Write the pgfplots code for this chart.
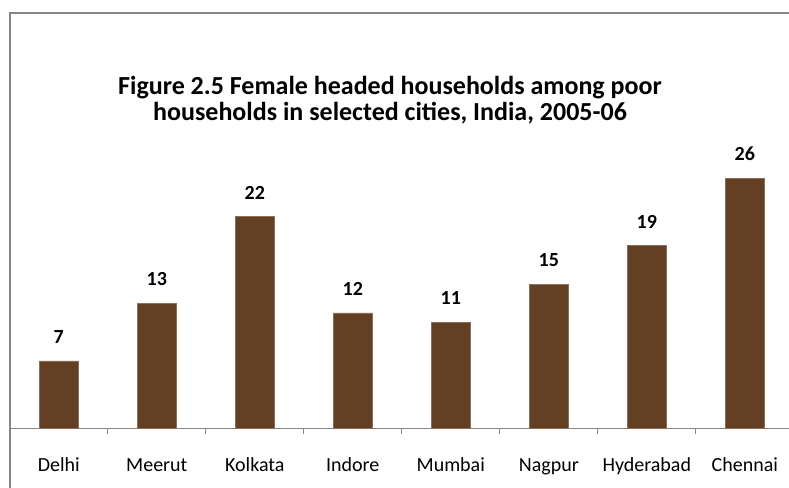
\documentclass[border=0pt]{standalone}
\usepackage{pgfplots}
\pgfplotsset{compat=1.18}
\usepackage{fontspec}
\setmainfont{Carlito}
\definecolor{barbrown}{RGB}{99,63,35}
\definecolor{framegray}{RGB}{134,134,134}
\begin{document}
\begin{tikzpicture}[x=0.75pt,y=0.75pt]
\useasboundingbox (0,0) rectangle (789,487);
\clip (0,0) rectangle (789,487);
\fill[white] (0,0) rectangle (789,487);
\draw[framegray, line width=1.5pt] (10,-20) -- (10,474) -- (810,474);
\node[font=\bfseries\fontsize{19.5}{19.5}\selectfont, align=center] at (390,387) {Figure 2.5 Female headed households among poor\\households in selected cities, India, 2005-06};
\begin{axis}[
  at={(10,61)}, anchor=south west,
  width=588pt, height=216.45pt, scale only axis,
  ymin=0, ymax=30, xmin=-0.5, xmax=7.5,
  axis x line*=bottom, axis y line=none,
  x axis line style={-, draw=framegray, line width=0.9pt},
  ybar, bar width=29.25pt,
  xtick={0,...,7},
  xticklabels={Delhi,Meerut,Kolkata,Indore,Mumbai,Nagpur,Hyderabad,Chennai},
  major x tick style={draw=none},
  xticklabel style={anchor=center, yshift=-25pt, text height=1.5ex, text depth=0.3ex, font=\fontsize{15}{18}\selectfont},
  extra x ticks={0.5,1.5,2.5,3.5,4.5,5.5,6.5},
  extra x tick labels={},
  extra x tick style={major tick length=4.5pt, tick align=outside, major x tick style={draw=framegray, line width=0.9pt}},
  nodes near coords,
  every node near coord/.append style={anchor=center, yshift=18pt, /pgf/number format/assume math mode=true, font=\bfseries\fontsize{15}{18}\selectfont},
  clip=false,
]
\addplot[fill=barbrown, draw=barbrown!75!white] coordinates {(0,7) (1,13) (2,22) (3,12) (4,11) (5,15) (6,19) (7,26)};
\end{axis}
\end{tikzpicture}
\end{document}
